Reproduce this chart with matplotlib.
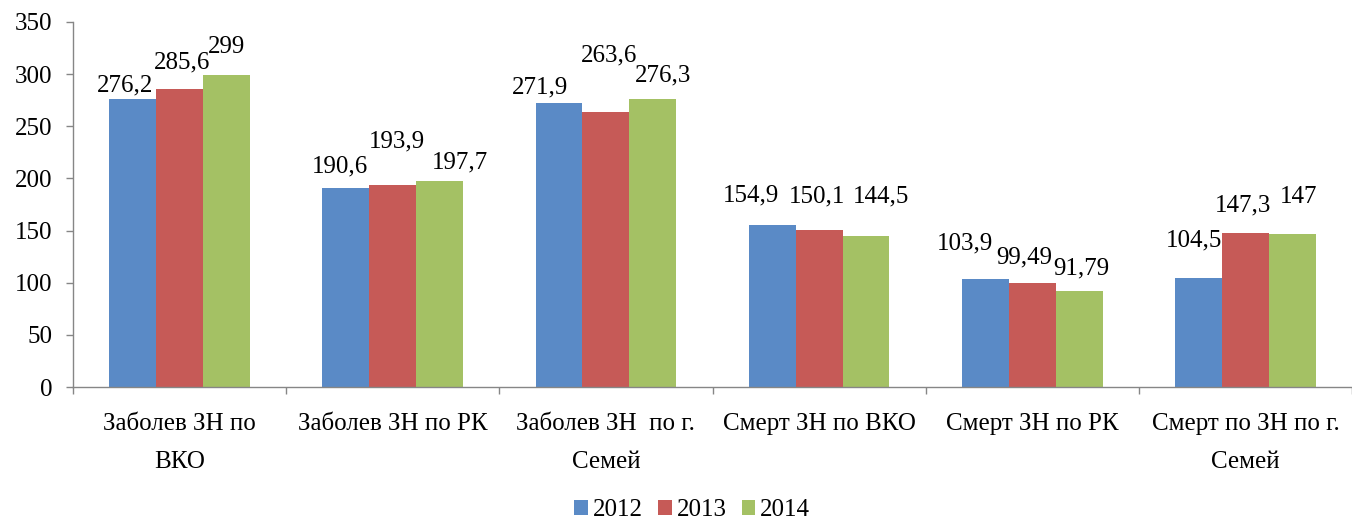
import numpy as np
import matplotlib.pyplot as plt

plt.rcParams["font.family"] = ["Liberation Serif", "DejaVu Serif"]

categories = [
    "Заболев ЗН по\nВКО",
    "Заболев ЗН по РК",
    "Заболев ЗН  по г.\nСемей",
    "Смерт ЗН по ВКО",
    "Смерт ЗН по РК",
    "Смерт по ЗН по г.\nСемей",
]
years = ["2012", "2013", "2014"]
v2012 = [276.2, 190.6, 271.9, 154.9, 103.9, 104.5]
v2013 = [285.6, 193.9, 263.6, 150.1, 99.49, 147.3]
v2014 = [299, 197.7, 276.3, 144.5, 91.79, 147]
colors = ["#5a8ac6", "#c65a57", "#a4c164"]

# label shifts in pixels (dx, dy) per series, per group - Excel staggers overlapping labels
label_shift = [
    [(-8, 14), (-6, 22), (-19, 16), (-21, 30), (-20, 35), (-4, 38)],
    [(2, 27), (4, 43), (3, 57), (-2, 34), (-8, 26), (-2, 28)],
    [(0, 28), (20, 18), (10, 23), (15, 40), (2, 23), (6, 37)],
]

fig = plt.figure(figsize=(13.52, 5.24), dpi=100)
ax = fig.add_axes([73 / 1352, 1 - 387 / 524, 1 - 73 / 1352, (387 - 22) / 524])

x = np.arange(len(categories))
w = 0.22
for i, (vals, c, lab) in enumerate(zip([v2012, v2013, v2014], colors, years)):
    bars = ax.bar(x + (i - 1) * w, vals, width=w, color=c, label=lab, zorder=2)
    for j, (b, v) in enumerate(zip(bars, vals)):
        ax.annotate(
            f"{v:g}".replace(".", ","),
            (b.get_x() + b.get_width() / 2, b.get_height()),
            xytext=label_shift[i][j],
            textcoords="offset pixels",
            ha="center",
            va="center",
            fontsize=18,
            zorder=3,
        )

ax.set_xlim(-0.5, len(categories) - 0.5)
ax.set_ylim(0, 350)
ax.set_yticks(np.arange(0, 351, 50))
ax.set_xticks(x)
ax.set_xticklabels(categories, linespacing=1.9)
ax.set_xticks(np.arange(-0.5, len(categories)), minor=True)
ax.tick_params(axis="x", which="major", length=0, pad=19, labelsize=18)
ax.tick_params(axis="x", which="minor", length=5, color="#868686", width=1)
ax.tick_params(axis="y", length=5, color="#868686", width=1, pad=10, labelsize=18)

for s in ["top", "right"]:
    ax.spines[s].set_visible(False)
for s in ["left", "bottom"]:
    ax.spines[s].set_color("#868686")
    ax.spines[s].set_linewidth(1)

fig.legend(
    loc="center",
    bbox_to_anchor=(0.512, 1 - 510 / 524),
    ncol=3,
    frameon=False,
    fontsize=18,
    handlelength=0.55,
    handleheight=0.55,
    handletextpad=0.2,
    columnspacing=0.6,
)

fig.savefig("out.png", dpi=100)
